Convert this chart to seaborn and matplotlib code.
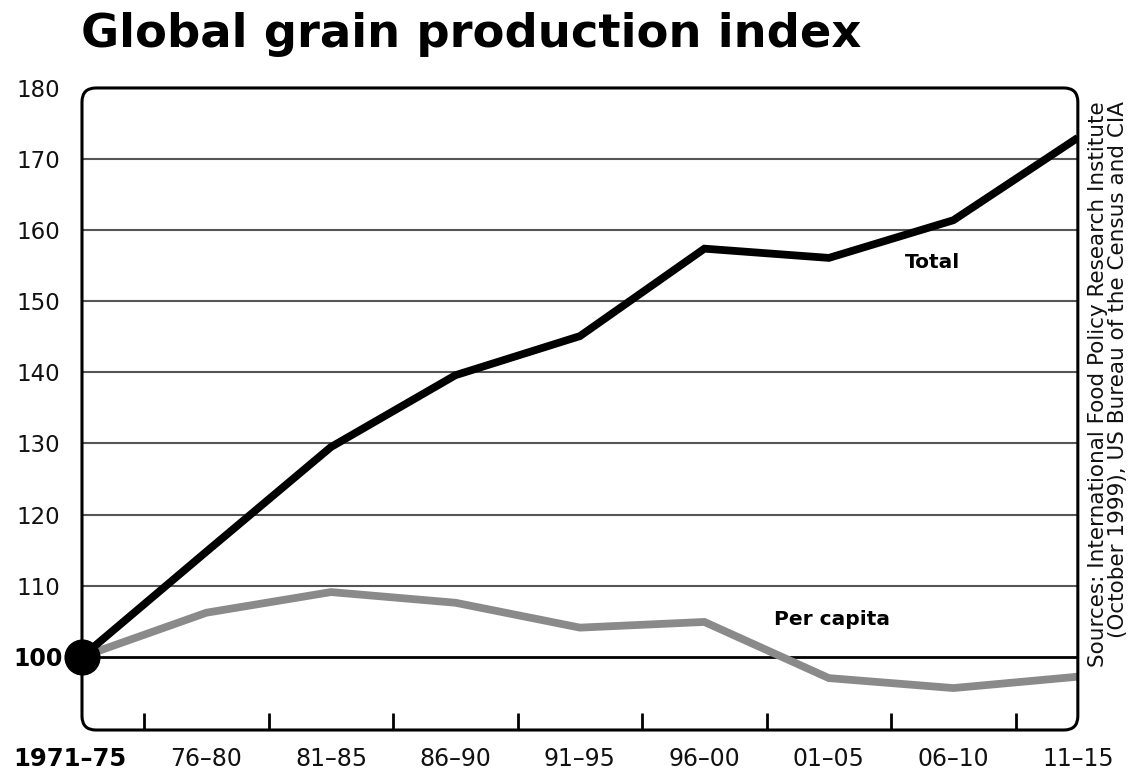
import numpy as np
import pandas as pd
import matplotlib
matplotlib.use("Agg")
import matplotlib.pyplot as plt
import matplotlib.transforms as mtransforms
from matplotlib.patches import FancyBboxPatch
import seaborn as sns

periods = ["1971–75", "76–80", "81–85", "86–90", "91–95", "96–00", "01–05", "06–10", "11–15"]
total = [100, 114.8, 129.5, 139.6, 145.1, 157.4, 156.1, 161.4, 173.0]
per_capita = [100, 106.2, 109.1, 107.6, 104.1, 104.9, 97.0, 95.6, 97.2]
y_ticks = [100, 110, 120, 130, 140, 150, 160, 170, 180]

sns.set_style("white")
plt.rcParams["font.family"] = ["DejaVu Sans"]
plt.rcParams["text.color"] = "#111111"
plt.rcParams["xtick.color"] = "#111111"
plt.rcParams["ytick.color"] = "#111111"

df = pd.DataFrame({
    "pos": list(range(len(periods))) * 2,
    "value": total + per_capita,
    "series": ["Total"] * len(periods) + ["Per capita"] * len(periods),
})

fig = plt.figure(figsize=(11.31, 7.69), dpi=100)
ax = fig.add_axes([0.0725, 0.0507, 0.953 - 0.0725, 0.8856 - 0.0507])

sns.lineplot(data=df, x="pos", y="value", hue="series",
             palette={"Total": "#000000", "Per capita": "#8a8a8a"},
             hue_order=["Per capita", "Total"],
             linewidth=5.6, legend=False, ax=ax, zorder=4)
for ln in ax.lines:
    ln.set_solid_joinstyle("miter")
    ln.set_solid_capstyle("butt")

ax.set_xlim(0, len(periods) - 1)
ax.set_ylim(89.7, 180)

# horizontal reference lines
for v in y_ticks[1:-1]:
    ax.axhline(v, color="#555555", lw=1.5, zorder=1)
ax.axhline(100, color="#000000", lw=2.0, zorder=2)

# rounded frame
for s in ax.spines.values():
    s.set_visible(False)
w_px = (0.953 - 0.0725) * 1131
h_px = (0.8856 - 0.0507) * 769
frame = FancyBboxPatch((0, 0), 1, 1, transform=ax.transAxes,
                       boxstyle="round,pad=0,rounding_size=%f" % (14 / w_px),
                       mutation_aspect=w_px / h_px,
                       fill=False, edgecolor="#000000", lw=2.2,
                       clip_on=False, zorder=5)
ax.add_patch(frame)

# tick marks between periods along the bottom
tick_pos = np.arange(len(periods) - 1) + 0.5
ax.vlines(tick_pos, 89.7, 89.7 + 17 / (h_px / (180 - 89.7)),
          color="#000000", lw=2.0, zorder=3)

# base point
ax.plot([0], [total[0]], "o", color="#000000", markersize=25,
        clip_on=False, zorder=6)

ax.set_xticks(range(len(periods)))
ax.set_xticklabels(periods, fontsize=17)
ax.tick_params(axis="x", length=0, pad=12)
xl = ax.get_xticklabels()
xl[0].set_fontweight("bold")
xl[0].set_fontsize(17.5)
xl[0].set_color("#000000")
xl[0].set_transform(xl[0].get_transform() +
                    mtransforms.ScaledTranslation(-12 / 100, 0, fig.dpi_scale_trans))

ax.set_yticks(y_ticks)
ax.set_yticklabels([str(v) for v in y_ticks], fontsize=16.5)
ax.tick_params(axis="y", length=0, pad=16)
yl = ax.get_yticklabels()
yl[0].set_fontweight("bold")
yl[0].set_fontsize(17)
yl[0].set_color("#000000")
yl[0].set_transform(yl[0].get_transform() +
                    mtransforms.ScaledTranslation(3 / 100, 0, fig.dpi_scale_trans))

ax.set_xlabel("")
ax.set_ylabel("")

ax.text(6.61, 155.4, "Total", fontsize=14.5, fontweight="bold", ha="left",
        va="center", color="#000000")
ax.text(5.56, 105.3, "Per capita", fontsize=14.5, fontweight="bold", ha="left",
        va="center", color="#000000")

fig.text(0.0715, 0.955, "Global grain production index", fontsize=33.5,
         fontweight="bold", ha="left", va="center", color="#000000")

fig.text(0.9797, 0.5006,
         "Sources: International Food Policy Research Institute\n"
         "(October 1999), US Bureau of the Census and CIA",
         rotation=90, fontsize=15.5, ha="center", va="center",
         multialignment="right", linespacing=1.0)

fig.savefig("out.png", dpi=100)
